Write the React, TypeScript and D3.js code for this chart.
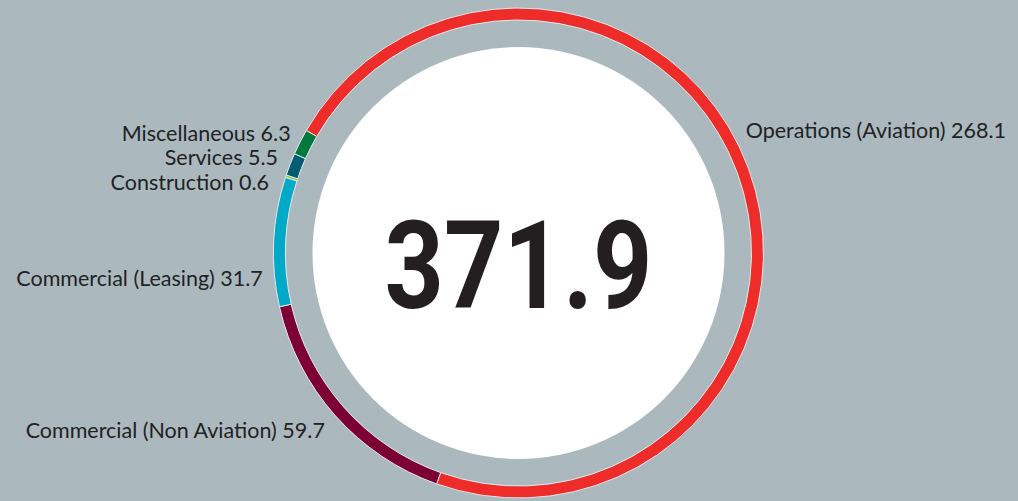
import { useEffect, useRef } from 'react';
import * as d3 from 'd3';

// spend by category, same order as the ring runs clockwise
const categories = [
  'Operations (Aviation)',
  'Commercial (Non Aviation)',
  'Commercial (Leasing)',
  'Construction',
  'Services',
  'Miscellaneous',
];
const values = [268.1, 59.7, 31.7, 0.6, 5.5, 6.3];
const colors = ['#ee2c2a', '#7c0036', '#00a9c7', '#8cc63e', '#005c70', '#007a3c'];
const totalLabel = '371.9';

// where each label sits around the ring (degrees clockwise from 12 o'clock)
const labelAngles = [60, -136.5, -96, -73.2, -67, -60.8];
const labelGaps = [15, 25, 12, 15, 15, 14];

const W = 1018;
const H = 501;

const App = () => {
  const svgRef = useRef<SVGSVGElement>(null);

  useEffect(() => {
    const svg = d3.select(svgRef.current);
    svg.selectAll('*').remove();

    const cx = 518.5;
    const cy = 253;
    const outerR = 245;
    const innerR = 233;
    const discR = 206;

    svg.append('rect').attr('width', W).attr('height', H).attr('fill', '#abb9bf');

    const g = svg.append('g').attr('transform', `translate(${cx},${cy})`);

    const pie = d3
      .pie<number>()
      .sort(null)
      .startAngle(-Math.PI / 3)
      .endAngle(-Math.PI / 3 + 2 * Math.PI);
    const arcs = pie(values);
    const arc = d3.arc<d3.PieArcDatum<number>>().innerRadius(innerR).outerRadius(outerR);

    g.selectAll('path')
      .data(arcs)
      .enter()
      .append('path')
      .attr('d', arc)
      .attr('fill', (d, i) => colors[i])
      .attr('stroke', '#e4eaec')
      .attr('stroke-width', 1);

    g.append('circle').attr('r', discR).attr('fill', '#ffffff');

    g.append('text')
      .attr('text-anchor', 'middle')
      .attr('x', 0)
      .attr('y', 55)
      .attr('font-family', 'Roboto, sans-serif')
      .attr('font-weight', 700)
      .attr('font-size', 122)
      .attr('fill', '#231f20')
      .attr('textLength', 268)
      .attr('lengthAdjust', 'spacingAndGlyphs')
      .text(totalLabel);

    categories.forEach((name, i) => {
      const a = (labelAngles[i] * Math.PI) / 180;
      const px = outerR * Math.sin(a);
      const py = -outerR * Math.cos(a);
      const right = px > 0;
      g.append('text')
        .attr('x', right ? px + labelGaps[i] : px - labelGaps[i])
        .attr('y', py)
        .attr('dy', '0.35em')
        .attr('text-anchor', right ? 'start' : 'end')
        .attr('font-family', 'Lato, sans-serif')
        .attr('font-size', 21.5)
        .attr('fill', '#222222')
        .text(`${name} ${values[i]}`);
    });
  }, []);

  return (
    <svg
      ref={svgRef}
      width={W}
      height={H}
      style={{ display: 'block', position: 'fixed', left: 0, top: 0 }}
    />
  );
};

export default App;
